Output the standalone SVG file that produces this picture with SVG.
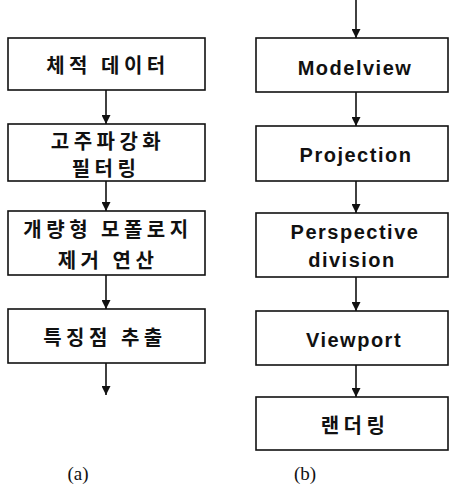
<svg xmlns="http://www.w3.org/2000/svg" width="452" height="488" viewBox="0 0 452 488">
<style>
.box{fill:#fff;stroke:#111;stroke-width:1.6}
.kr{font-family:"Noto Sans CJK KR","Noto Sans",sans-serif;font-weight:bold;font-size:20px;letter-spacing:4.5px;fill:#111;text-anchor:middle;dominant-baseline:central}
.en{font-family:"Liberation Sans",Arial,sans-serif;font-weight:bold;font-size:20px;letter-spacing:1.5px;fill:#111;text-anchor:middle;dominant-baseline:central}
.cap{font-family:"Liberation Serif","Times New Roman",serif;font-size:19px;fill:#111;text-anchor:middle}
.conn line{stroke:#111;stroke-width:1.6}
</style>
<defs>
<marker id="ah" viewBox="0 0 10 10" refX="10" refY="5" markerWidth="9" markerHeight="9" markerUnits="userSpaceOnUse" orient="auto">
<path d="M0,0 L10,5 L0,10 Z" fill="#111"/>
</marker>
</defs>
<g id="connectors" class="conn">
<line x1="106" y1="90" x2="106" y2="124" marker-end="url(#ah)"/>
<line x1="106" y1="181" x2="106" y2="211" marker-end="url(#ah)"/>
<line x1="106" y1="275" x2="106" y2="309" marker-end="url(#ah)"/>
<line x1="106" y1="363" x2="106" y2="395" marker-end="url(#ah)"/>
<line x1="356" y1="0" x2="356" y2="38" marker-end="url(#ah)"/>
<line x1="356" y1="92" x2="356" y2="126" marker-end="url(#ah)"/>
<line x1="356" y1="181" x2="356" y2="213" marker-end="url(#ah)"/>
<line x1="356" y1="277" x2="356" y2="311" marker-end="url(#ah)"/>
<line x1="356" y1="365" x2="356" y2="397" marker-end="url(#ah)"/>
</g>
<g id="a1"><rect class="box" x="8" y="38" width="197" height="52"/><text class="kr" x="108" y="64">체적 데이터</text></g>
<g id="a2"><rect class="box" x="8" y="124" width="197" height="57"/><text class="kr" x="108" y="140">고주파강화</text><text class="kr" x="106" y="167">필터링</text></g>
<g id="a3"><rect class="box" x="8" y="211" width="197" height="64"/><text class="kr" x="108" y="228">개량형 모폴로지</text><text class="kr" x="108" y="259">제거 연산</text></g>
<g id="a4"><rect class="box" x="8" y="309" width="197" height="54"/><text class="kr" x="105" y="336">특징점 추출</text></g>
<g id="b1"><rect class="box" x="256" y="38" width="192" height="54"/><text class="en" x="355" y="68">Modelview</text></g>
<g id="b2"><rect class="box" x="256" y="126" width="192" height="55"/><text class="en" x="356" y="155">Projection</text></g>
<g id="b3"><rect class="box" x="256" y="213" width="192" height="64"/><text class="en" x="355" y="232">Perspective</text><text class="en" x="352" y="260">division</text></g>
<g id="b4"><rect class="box" x="256" y="311" width="192" height="54"/><text class="en" x="354" y="340">Viewport</text></g>
<g id="b5"><rect class="box" x="256" y="397" width="192" height="53"/><text class="kr" x="355" y="424">랜더링</text></g>
<text class="cap" x="78" y="480">(a)</text>
<text class="cap" x="305" y="480">(b)</text>
</svg>
